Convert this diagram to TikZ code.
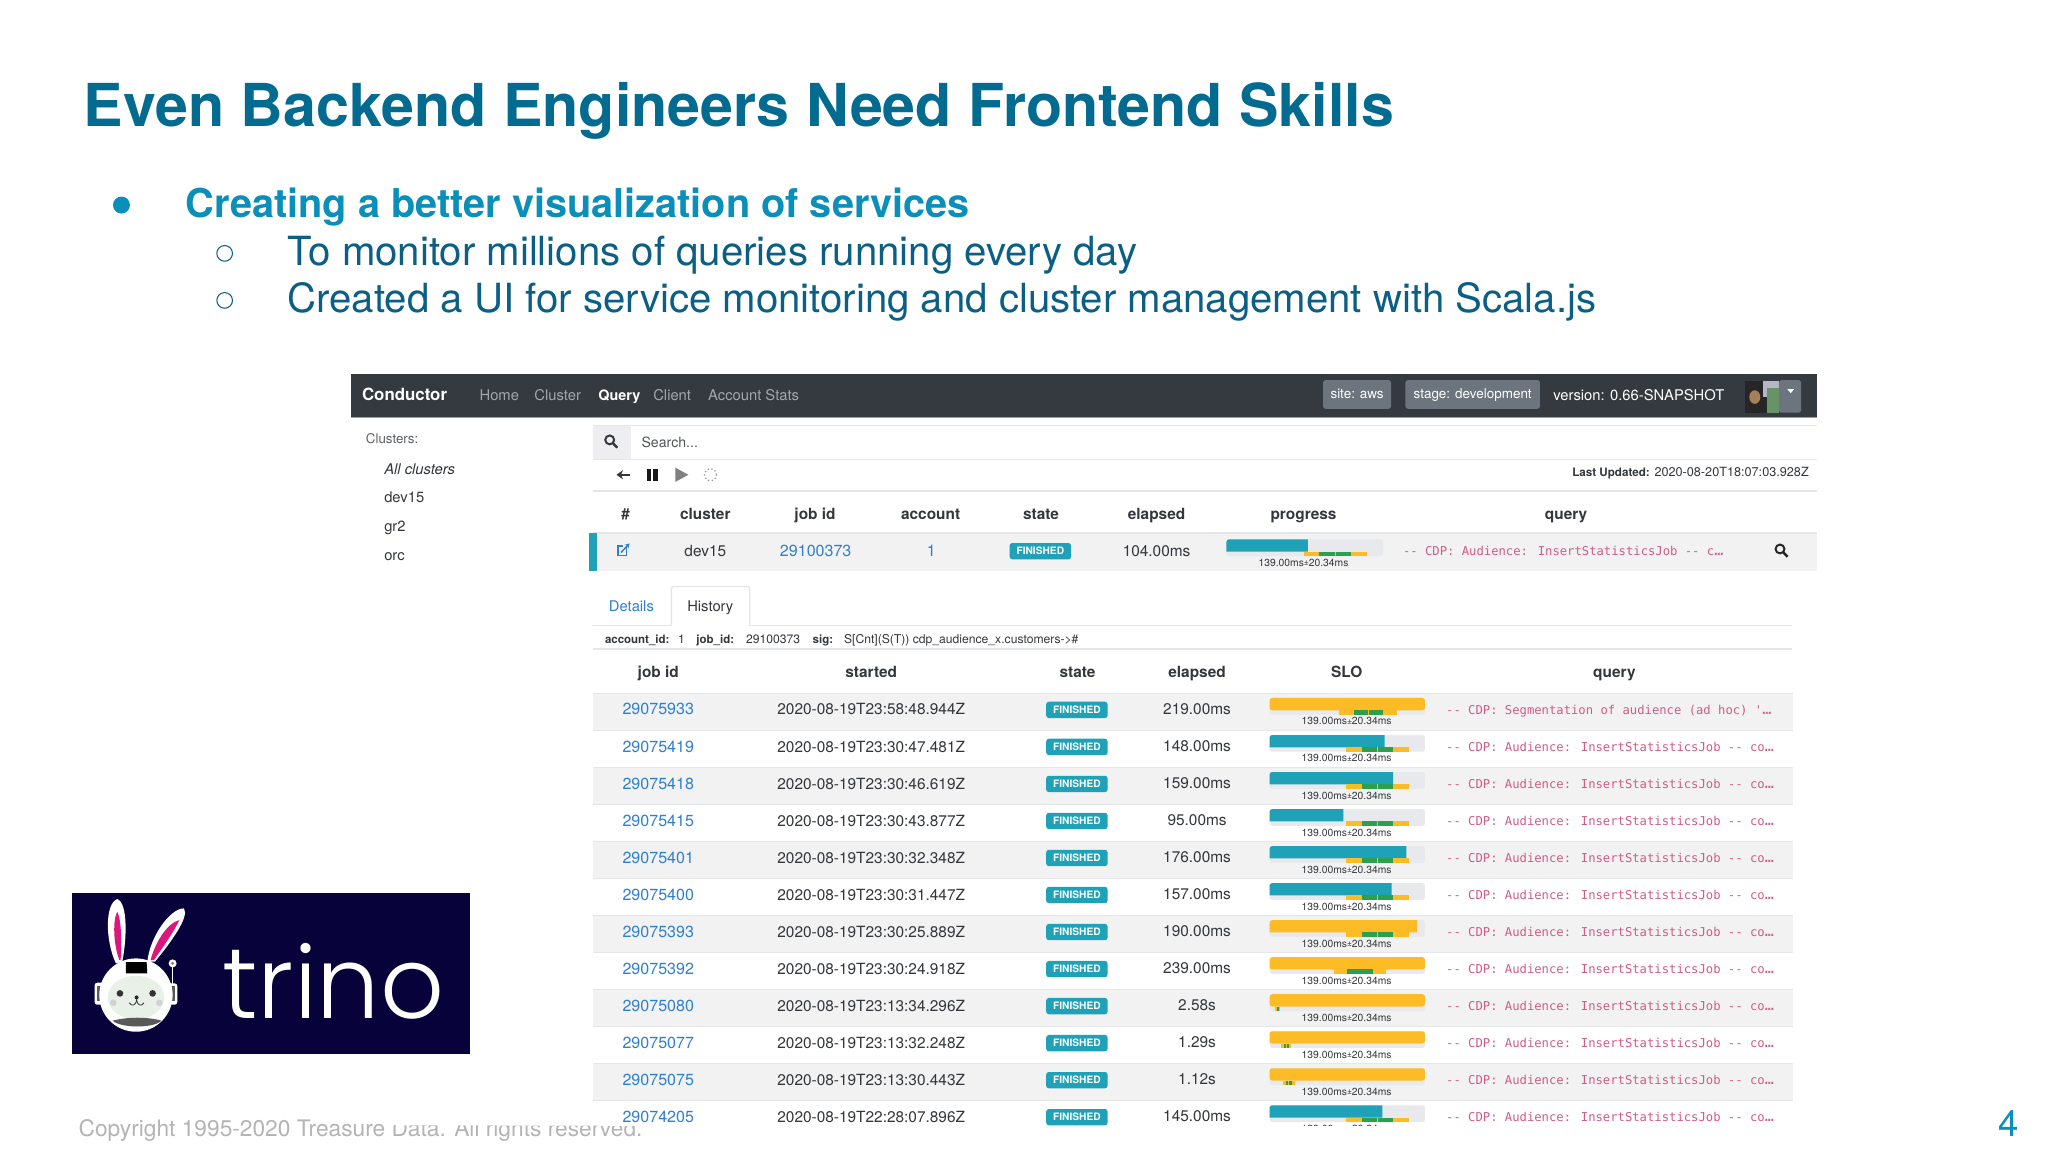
\documentclass[tikz,border=0pt]{standalone}
\usepackage{fontspec}
\setmainfont{TeX Gyre Heros}
\newfontfamily\queryfont{DejaVu Sans Mono}
\newfontfamily\trinofont{Poppins}[UprightFont=* Light]
\usetikzlibrary{arrows.meta}
\definecolor{titleblue}{HTML}{026B8F}
\definecolor{leadblue}{HTML}{0A8FBB}
\definecolor{subblue}{HTML}{0B5F85}
\definecolor{navdark}{HTML}{343A40}
\definecolor{navgrey}{HTML}{6C757D}
\definecolor{navtext}{HTML}{A2A7AB}
\definecolor{rulegrey}{HTML}{E4E6E8}
\definecolor{rowgrey}{HTML}{F2F2F3}
\definecolor{bargrey}{HTML}{E7E9EC}
\definecolor{linkblue}{HTML}{2F7FCC}
\definecolor{sloteal}{HTML}{1FA2B8}
\definecolor{sloyellow}{HTML}{FDBB26}
\definecolor{slogreen}{HTML}{2E9E4F}
\definecolor{querypink}{HTML}{CF5C88}
\definecolor{inktext}{HTML}{33373B}
\definecolor{trinonavy}{HTML}{07033A}
\definecolor{copygrey}{HTML}{B4B4B4}
\tikzset{
  txt/.style={inner sep=0pt, anchor=base, text=inktext, font=\fontsize{11.8}{14}\selectfont},
  txtleft/.style={txt, anchor=base west},
  head/.style={txt, font=\fontsize{11.8}{14}\selectfont\bfseries},
  nav/.style={txtleft, text=navtext, font=\fontsize{11.3}{14}\selectfont},
  side/.style={txtleft, font=\fontsize{11.3}{14}\selectfont},
  link/.style={txt, text=linkblue, font=\fontsize{12.3}{14}\selectfont},
  query/.style={inner sep=0pt, anchor=base west, text=querypink, font=\fontsize{9.35}{11}\queryfont},
  finished/.style={fill=sloteal, rounded corners=2pt, text=white, inner sep=0pt, text height=5.6pt, text depth=0pt, minimum width=47pt, minimum height=12.5pt, font=\fontsize{7.8}{9}\selectfont\bfseries},
  badge/.style={fill=navgrey, rounded corners=2pt, text=white, inner sep=0pt, text height=8pt, text depth=2.4pt, font=\fontsize{10.3}{12}\selectfont},
  rulel/.style={draw=rulegrey, line width=1pt},
  infob/.style={inner sep=0pt, anchor=base west, text=inktext, font=\fontsize{8.8}{10}\selectfont\bfseries},
  infon/.style={inner sep=0pt, anchor=base west, text=inktext, font=\fontsize{9.3}{10}\selectfont},
  slolabel/.style={inner sep=0pt, anchor=center, text=inktext, font=\fontsize{7.9}{9}\selectfont},
}
\newcommand{\slobar}[5]{%
  \pgfmathsetmacro\slok{#2/max(200,#4)}
  \pgfmathsetmacro\sloe{#1+#4*\slok}
  \pgfmathsetmacro\sloc{#1+139*\slok}
  \pgfmathsetmacro\slos{20.34*\slok}
  \ifdim#4pt>179.68pt\def\slofill{sloyellow}\else\def\slofill{sloteal}\fi
  \ifdim#4pt>199pt\def\slor{2}\else\def\slor{0}\fi
  \fill[bargrey, rounded corners=2pt] (#1,#3-8.6) rectangle (#1+#2,#3+4.2);
  \fill[\slofill] (#1,#3+0.8) [rounded corners=2pt] -- (#1,#3-8.6) [rounded corners=\slor pt] -- (\sloe,#3-8.6) -- (\sloe,#3+0.8) -- cycle;
  \fill[sloyellow] (\sloc-2*\slos,#3+0.8) rectangle (\sloc+2*\slos,#3+4.2);
  \fill[slogreen] (\sloc-\slos,#3+0.8) rectangle (\sloc-0.3,#3+4.2);
  \fill[slogreen] (\sloc+0.3,#3+0.8) rectangle (\sloc+\slos,#3+4.2);
  \node[slolabel] (slo-#5) at (#1+59,#3+9.3) {139.00ms\raisebox{.3pt}{\fontsize{6.5}{7}\selectfont±}20.34ms};
}
\newcommand{\lensicon}[3]{%
  \draw[#3, line width=1.5pt] (#1-1.2,#2-1.2) circle (3.4pt);
  \draw[#3, line width=1.9pt] (#1+1.2,#2+1.2) -- (#1+4.6,#2+4.8);
}
\newcommand{\dotsq}{{\fontsize{11.5}{11}\selectfont …}}
\begin{document}
\begin{tikzpicture}[x=1pt, y=-1pt]
\useasboundingbox (0,0) rectangle (1568,882);
\fill[white] (0,0) rectangle (1568,882);

\node[inner sep=0pt, anchor=base west, text=titleblue, font=\fontsize{45.3}{50}\selectfont\bfseries] (title) at (64,97) {Even Backend Engineers Need Frontend Skills};
\fill[leadblue] (93,157) circle (6.5pt);
\node[inner sep=0pt, anchor=base west, text=leadblue, font=\fontsize{30.4}{36}\selectfont\bfseries] (lead) at (142,166.5) {Creating a better visualization of services};
\draw[subblue, line width=.8pt] (172,194) circle (6pt);
\node[inner sep=0pt, anchor=base west, text=subblue, font=\fontsize{30.75}{36}\selectfont] (subone) at (220,203) {To monitor millions of queries running every day};
\draw[subblue, line width=.8pt] (172,230) circle (6pt);
\node[inner sep=0pt, anchor=base west, text=subblue, font=\fontsize{30.75}{36}\selectfont] (subtwo) at (220,239) {Created a UI for service monitoring and cluster management with Scala.js};

\node[inner sep=0pt, anchor=base west, text=copygrey, font=\fontsize{17.4}{22}\selectfont] (copyright) at (60,870) {Copyright 1995-2020 Treasure Data. All rights reserved.};
\fill[white] (262,850) -- (300,861.5) -- (500,862) -- (500,850) -- cycle;
\node[inner sep=0pt, anchor=base, text=leadblue, font=\fontsize{28}{32}\selectfont] (pagenum) at (1538,870) {4};

% logo
\fill[trinonavy] (55,684) rectangle (360,807);
\node[inner sep=0pt, anchor=base west, text=white, font=\fontsize{76.5}{90}\trinofont] (trino) at (170,780) {trino};
\begin{scope}[shift={(45.9,673.8)}, x=.2552pt, y=-.2552pt]
  \fill[white] (168,250) .. controls (135,180) and (135,70) .. (172,57) .. controls (205,70) and (200,180) .. (187,245) -- cycle;
  \fill[magenta!70!purple] (178,240) .. controls (160,190) and (158,120) .. (172,95) .. controls (185,120) and (185,190) .. (182,240) -- cycle;
  \fill[white] (262,245) .. controls (270,170) and (330,85) .. (372,85) .. controls (390,110) and (330,190) .. (285,245) -- cycle;
  \fill[magenta!70!purple] (272,240) .. controls (285,190) and (320,130) .. (358,120) .. controls (345,150) and (310,200) .. (282,240) -- cycle;
  \draw[white, line width=1.2pt] (338,312) -- (338,255);
  \fill[white] (338,250) circle (12);
  \fill[gray] (338,250) circle (5);
  \fill[white, rounded corners=2pt] (104,308) rectangle (134,374);
  \fill[white, rounded corners=2pt] (324,310) rectangle (352,374);
  \fill[gray!70!black] (112,318) rectangle (128,364);
  \fill[gray!70!black] (332,318) rectangle (346,364);
  \fill[white] (228,345) circle (110);
  \fill[black] (198,246) -- (260,246) -- (262,280) -- (198,280) -- cycle;
  \fill[green!20!gray!15] (228,352) ellipse (85 and 65);
  \fill[gray!35] (160,368) circle (10);
  \fill[gray!35] (298,368) circle (10);
  \fill[black!80] (180,340) circle (10);
  \fill[black!80] (278,340) circle (10);
  \fill[black!85] (230,352) circle (6);
  \draw[black!80, line width=.6pt] (208,368) .. controls (215,380) and (228,378) .. (230,358) .. controls (232,378) and (245,380) .. (252,368);
  \fill[gray!70!black] (158,422) .. controls (200,410) and (265,410) .. (305,422) .. controls (280,445) and (185,445) .. (158,422) -- cycle;
\end{scope}

% navbar
\fill[navdark] (269,286) rectangle (1391,320);
\draw[navgrey!70, line width=.8pt] (269,320) -- (1391,320);
\node[txtleft, text=white, font=\fontsize{12.9}{15}\selectfont\bfseries] (brand) at (277,307) {Conductor};
\node[nav] (navhome) at (367,306.5) {Home};
\node[nav] (navcluster) at (409,306.5) {Cluster};
\node[nav, text=white, font=\fontsize{11}{14}\selectfont\bfseries] (navquery) at (458,306.5) {Query};
\node[nav] (navclient) at (500,306.5) {Client};
\node[nav] (navstats) at (542,306.5) {Account Stats};
\node[badge, minimum width=52pt, minimum height=22pt] (site) at (1039,302) {site: aws};
\node[badge, minimum width=103pt, minimum height=22pt] (stage) at (1127.5,302) {stage: development};
\node[txtleft, text=white, font=\fontsize{11.3}{14}\selectfont] (version) at (1189,306.5) {version: 0.66-SNAPSHOT};
\fill[black!85] (1336,292) rectangle (1362,316);
\fill[blue!15!gray!50] (1350,292) rectangle (1362,304);
\fill[green!30!black!60] (1353,297) rectangle (1362,316);
\fill[brown!60!gray] (1343.5,304) ellipse (4.2pt and 5.2pt);
\fill[navgrey, rounded corners=1.5pt] (1362,291) rectangle (1379,316);
\fill[white] (1368.5,298) -- (1373.5,298) -- (1371,301) -- cycle;

% sidebar
\node[side, text=inktext!80, font=\fontsize{10.2}{12}\selectfont] (clusters) at (280,339.5) {Clusters:};
\node[side, font=\fontsize{11.3}{14}\selectfont\itshape] (allclusters) at (294,363) {All clusters};
\node[side] (dev) at (294,385) {dev15};
\node[side] (grtwo) at (294,407) {gr2};
\node[side] (orc) at (294,429) {orc};

% search
\fill[rowgrey!70!rulegrey, rounded corners=1pt] (454,326) rectangle (483,352);
\draw[rulel] (454,326) -- (1391,326);
\draw[rulel] (454,352) -- (1391,352);
\lensicon{468}{338}{inktext}
\node[side, font=\fontsize{10.8}{13}\selectfont, text=inktext!85] (search) at (491,342.5) {Search...};
\draw[inktext, line width=1.4pt, -{Stealth[length=5pt,width=7pt]}] (482,363.5) -- (472,363.5);
\fill[black!90] (495,359) rectangle (498.6,368);
\fill[black!90] (500.2,359) rectangle (503.8,368);
\fill[gray] (517,358) -- (527,363.5) -- (517,369) -- cycle;
\draw[gray!80, line width=1pt, dash pattern=on 1pt off 1.8pt] (544,363.5) circle (4.6pt);
\node[inner sep=0pt, anchor=base east, text=inktext, font=\fontsize{9.7}{10}\selectfont] (updated) at (1385,364.5) {{\fontsize{8.9}{10}\selectfont\bfseries Last Updated:} 2020-08-20T18:07:03.928Z};
\draw[rulel] (454,376) -- (1391,376);

% running query
\node[head] (hdnum) at (479,397.5) {\#};
\node[head] (hdcluster) at (540,397.5) {cluster};
\node[head] (hdjob) at (624,397.5) {job id};
\node[head] (hdaccount) at (712.5,397.5) {account};
\node[head] (hdstate) at (797,397.5) {state};
\node[head] (hdelapsed) at (885.5,397.5) {elapsed};
\node[head] (hdprogress) at (998,397.5) {progress};
\node[head] (hdquery) at (1199,397.5) {query};
\fill[rowgrey] (451,408) rectangle (1391,437);
\draw[rulel] (454,408) -- (1391,408);
\fill[sloteal] (451,408) rectangle (457,437);
\draw[linkblue, line width=1.1pt] (479.5,419) -- (479.5,425.5) -- (473,425.5) -- (473,418) -- (477,418);
\draw[linkblue, line width=1.1pt, -{Stealth[length=3.5pt,width=4pt]}] (475.5,423) -- (482,416);
\node[txt] (rundev) at (540,426) {dev15};
\node[link] (runjob) at (624.5,426) {29100373};
\node[link] (runaccount) at (713,426) {1};
\node[finished] (runstate) at (796.5,422) {FINISHED};
\node[txt] (runelapsed) at (885.5,426) {104.00ms};
\slobar{939}{120}{421.5}{104}{run}
\node[query] (runquery) at (1074,425) {-- CDP: Audience: InsertStatisticsJob -- c\dotsq};
\lensicon{1364}{421.5}{black!85}

% tabs
\draw[rulel] (454,479) -- (514,479);
\draw[rulel] (574,479) -- (1372,479);
\draw[rulel, rounded corners=2pt] (514,479) -- (514,449) -- (574,449) -- (574,479);
\node[side, text=linkblue] (tabdetails) at (466,468.5) {Details};
\node[side] (tabhistory) at (526,468.5) {History};
\node[infob] (infoaccount) at (463,493) {account\_id:};
\node[infon] (infoaccountid) at (519,493) {1};
\node[infob] (infojob) at (533,493) {job\_id:};
\node[infon] (infojobid) at (571,493) {29100373};
\node[infob] (infosig) at (622,493) {sig:};
\node[infon] (infosigval) at (646,493) {S[Cnt](S(T)) cdp\_audience\_x.customers->\#};
\draw[rulel] (454,497) -- (1372,497);

% history
\node[head] (jobhead) at (504,518.5) {job id};
\node[head] (startedhead) at (667,518.5) {started};
\node[head] (statehead) at (825,518.5) {state};
\node[head] (elapsedhead) at (916.5,518.5) {elapsed};
\node[head] (slohead) at (1031,518.5) {SLO};
\node[head] (queryhead) at (1236,518.5) {query};
\newcommand{\qaud}{-- CDP: Audience: InsertStatisticsJob -- co}
\newcommand{\qseg}{-- CDP: Segmentation of audience (ad hoc) '}
\begin{scope}
\clip (269,500) rectangle (1400,862);
\foreach \jobid/\started/\took/\ms/\qtext [count=\i from 0] in {
  29075933/2020-08-19T23:58:48.944Z/219.00ms/219/\qseg,
  29075419/2020-08-19T23:30:47.481Z/148.00ms/148/\qaud,
  29075418/2020-08-19T23:30:46.619Z/159.00ms/159/\qaud,
  29075415/2020-08-19T23:30:43.877Z/95.00ms/95/\qaud,
  29075401/2020-08-19T23:30:32.348Z/176.00ms/176/\qaud,
  29075400/2020-08-19T23:30:31.447Z/157.00ms/157/\qaud,
  29075393/2020-08-19T23:30:25.889Z/190.00ms/190/\qaud,
  29075392/2020-08-19T23:30:24.918Z/239.00ms/239/\qaud,
  29075080/2020-08-19T23:13:34.296Z/2.58s/2580/\qaud,
  29075077/2020-08-19T23:13:32.248Z/1.29s/1290/\qaud,
  29075075/2020-08-19T23:13:30.443Z/1.12s/1120/\qaud,
  29074205/2020-08-19T22:28:07.896Z/145.00ms/145/\qaud}
{
  \pgfmathsetmacro\rowy{543+28.35*\i}
  \ifodd\i\else
    \fill[rowgrey] (454,\rowy-12) rectangle (1373,\rowy+16.2);
    \draw[rulel] (454,\rowy-12) -- (1373,\rowy-12);
    \draw[rulel] (454,\rowy+16.2) -- (1373,\rowy+16.2);
  \fi
  \node[link] (job-\i) at (504,\rowy+4.4) {\jobid};
  \node[txt] (started-\i) at (667,\rowy+4.4) {\started};
  \node[finished] (state-\i) at (824.5,\rowy+0.5) {FINISHED};
  \node[txt] (elapsed-\i) at (916.5,\rowy+4) {\took};
  \slobar{972}{119}{\rowy}{\ms}{\i}
  \node[query] (query-\i) at (1107,\rowy+3.8) {\qtext\dotsq};
}
\end{scope}
\end{tikzpicture}
\end{document}
